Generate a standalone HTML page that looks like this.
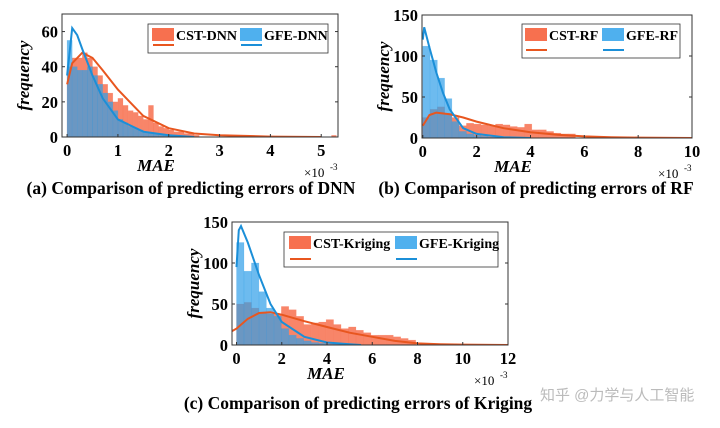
<!DOCTYPE html>
<html><head><meta charset="utf-8"><style>
body{margin:0;background:#fff;width:720px;height:423px;overflow:hidden;font-family:"Liberation Serif",serif}
svg text{font-family:"Liberation Serif",serif;font-weight:bold}
</style></head><body>
<svg id="s" width="720" height="423">
<text x="191" y="194" font-size="17.5" text-anchor="middle">(a) Comparison of predicting errors of DNN</text>
<text x="536" y="194" font-size="17.5" text-anchor="middle">(b) Comparison of predicting errors of RF</text>
<text x="358" y="409" font-size="17.5" text-anchor="middle">(c) Comparison of predicting errors of Kriging</text>
<text x="540" y="400" font-size="15" fill="#bbb" style="font-weight:normal;font-family:'Liberation Sans','Noto Sans CJK SC',sans-serif">知乎 @力学与人工智能</text>
</svg>
<script>
// Panel A (DNN)
const dnnBinW=0.1;
const dnnCst=[40,45,45,48,45,40,35,30,25,20,22,18,15,14,12,10,18,8,6,5,4,3,3,2,2,1];
const dnnGfe=[55,40,38,38,40,35,30,25,20,15,10,8,6,5,4,3,2,2,1,1,1,0];
const dnnOutlierX=5.2;
const dnnOutlierY=1;
const dnnCstCurveX=[0,0.1,0.3,0.5,0.7,1,1.5,2,2.5,3,4,5];
const dnnCstCurveY=[30,42,48,45,38,27,12,5,2,1,0.2,0];
const dnnGfeCurveX=[0,0.1,0.2,0.3,0.5,0.7,1,1.5,2,2.5];
const dnnGfeCurveY=[35,62,58,50,35,22,10,3,1,0];
const dnnXTicks=[0,1,2,3,4,5];
const dnnYTicks=[0,20,40,60];
// Panel B (RF)
const rfBinW=0.27;
const rfCst=[25,35,38,30,25,15,18,17,16,15,17,16,14,13,17,10,10,8,6,5,5];
const rfGfe=[112,95,73,48,20,8,5,3,2,1,1,1,1,1,0];
const rfCstCurveX=[0,0.25,0.5,1,1.5,2,3,4,5,6,7,8,10];
const rfCstCurveY=[15,28,31,29,25,20,12,7,4,2,1,0.5,0];
const rfGfeCurveX=[0,0.05,0.25,0.5,0.75,1,1.5,2,3,4];
const rfGfeCurveY=[120,135,110,80,55,35,12,5,1,0];
const rfXTicks=[0,2,4,6,8,10];
const rfYTicks=[0,50,100,150];
// Panel C (Kriging)
const krBinW=0.33;
const krCst=[50,52,45,40,38,38,47,43,35,25,27,28,31,25,20,22,18,15,12,12,12,10,8,6];
const krGfe=[125,90,100,65,45,35,20,12,8,5,3,2,1,1,1,0];
const krCstCurveX=[-0.2,0,0.5,1,1.5,2,3,4,5,6,7,8,9,10,12];
const krCstCurveY=[17,20,32,39,40,37,29,22,15,10,5,2,1,0.5,0];
const krGfeCurveX=[0,0.1,0.2,0.5,1,1.5,2,3,4,5,5.5];
const krGfeCurveY=[95,140,145,125,85,50,28,10,3,1,0];
const krXTicks=[0,2,4,6,8,10,12];
const krYTicks=[0,50,100,150];

const NS="http://www.w3.org/2000/svg";
const svg=document.getElementById('s');
function mk(t,a,p){const e=document.createElementNS(NS,t);for(const k in a)e.setAttribute(k,a[k]);(p||svg).appendChild(e);return e;}
function panel(id,box,xd,yd,binW,cst,gfe,cX,cY,gX,gY,xt,yt,leg,names,extra){
  const g=mk('g',{});
  
  
  const sx=v=>box.x0+(v-xd[0])/(xd[1]-xd[0])*(box.x1-box.x0);
  const sy=v=>box.y1-(v-yd[0])/(yd[1]-yd[0])*(box.y1-box.y0);
  const clip=mk('clipPath',{id:'c'+id},g);
  mk('rect',{x:box.x0,y:box.y0,width:box.x1-box.x0,height:box.y1-box.y0},clip);
  const pl=mk('g',{'clip-path':'url(#c'+id+')'},g);
  cst.forEach((v,i)=>{const r=mk('rect',{x:sx(i*binW),y:sy(v),width:sx(binW)-sx(0),height:sy(0)-sy(v),fill:'#f7704f','fill-opacity':0.85,stroke:'#f7704f','stroke-opacity':0.3,'stroke-width':0.5},pl);
    });
  if(extra){const r=mk('rect',{x:sx(extra[0]),y:sy(extra[1]),width:sx(binW)-sx(0),height:sy(0)-sy(extra[1]),fill:'#f7704f','fill-opacity':0.85},pl);
    }
  gfe.forEach((v,i)=>{const r=mk('rect',{x:sx(i*binW),y:sy(v),width:sx(binW)-sx(0),height:sy(0)-sy(v),fill:'#2f9ee8','fill-opacity':0.7,stroke:'#2f9ee8','stroke-opacity':0.3,'stroke-width':0.5},pl);
    });
  const path=(X,Y)=>X.map((x,i)=>(i?'L':'M')+sx(x).toFixed(1)+','+sy(Y[i]).toFixed(1)).join('');
  const l1=mk('path',{d:path(cX,cY),fill:'none',stroke:'#e8561f','stroke-width':2},pl);
  
  const l2=mk('path',{d:path(gX,gY),fill:'none',stroke:'#1b8fd8','stroke-width':2},pl);
  
  mk('rect',{x:box.x0,y:box.y0,width:box.x1-box.x0,height:box.y1-box.y0,fill:'none',stroke:'#333','stroke-width':1},g);
  xt.forEach(t=>{mk('line',{x1:sx(t),x2:sx(t),y1:box.y1,y2:box.y1-3,stroke:'#333'},g);
    const tx=mk('text',{x:sx(t),y:box.y1+19,'font-size':16.5,'text-anchor':'middle'},g);tx.textContent=t;
    });
  yt.forEach(t=>{mk('line',{x1:box.x0,x2:box.x0+3,y1:sy(t),y2:sy(t),stroke:'#333'},g);
    mk('line',{x1:box.x1,x2:box.x1-3,y1:sy(t),y2:sy(t),stroke:'#333'},g);
    const tx=mk('text',{x:box.x0-4,y:sy(t)+6,'font-size':16.5,'text-anchor':'end'},g);tx.textContent=t;
    });
  const xl=mk('text',{x:(box.x0+box.x1)/2-44,y:box.y1+34,'font-size':17,'font-style':'italic','text-anchor':'middle'},g);xl.textContent='MAE';
  
  const ex=mk('text',{x:box.x1-34,y:box.y1+40,'font-size':13,style:'font-weight:normal'},g);ex.textContent='×10';
  const ee=mk('text',{x:box.x1-8,y:box.y1+33,'font-size':9,style:'font-weight:normal'},g);ee.textContent='-3';
  
  const cy=(box.y0+box.y1)/2;
  const yl=mk('text',{x:box.x0-33,y:cy,'font-size':17,'font-style':'italic','text-anchor':'middle',transform:'rotate(-90 '+(box.x0-33)+' '+cy+')'},g);yl.textContent='frequency';
  
  const lg=mk('g',{},g);
  mk('rect',{x:leg.x0,y:leg.y0,width:leg.x1-leg.x0,height:leg.y1-leg.y0,fill:'#fff',stroke:'#333','stroke-width':0.8},lg);
  [[leg.a,'#f7704f','#e8561f',names[0]],[leg.b,'#4fb0ee','#1b8fd8',names[1]]].forEach(([x,f,c,n])=>{
    mk('rect',{x:x,y:leg.y0+4,width:22,height:13,fill:f},lg);
    const t=mk('text',{x:x+24,y:leg.y0+16,'font-size':14},lg);t.textContent=n;
    
    mk('line',{x1:x+1,x2:x+22,y1:leg.y1-8,y2:leg.y1-8,stroke:c,'stroke-width':2},lg);
  });
}
panel('a',{x0:62,x1:338,y0:14,y1:137},[-0.1,5.33],[0,70],dnnBinW,dnnCst,dnnGfe,dnnCstCurveX,dnnCstCurveY,dnnGfeCurveX,dnnGfeCurveY,dnnXTicks,dnnYTicks,{x0:148,x1:328,y0:24,y1:53,a:152,b:240},['CST-DNN','GFE-DNN'],[dnnOutlierX,dnnOutlierY]);
panel('b',{x0:422,x1:692,y0:15,y1:138},[-0.03,10],[0,150],rfBinW,rfCst,rfGfe,rfCstCurveX,rfCstCurveY,rfGfeCurveX,rfGfeCurveY,rfXTicks,rfYTicks,{x0:522,x1:680,y0:24,y1:58,a:525,b:602},['CST-RF','GFE-RF']);
panel('c',{x0:232,x1:508,y0:222,y1:345},[-0.2,12],[0,150],krBinW,krCst,krGfe,krCstCurveX,krCstCurveY,krGfeCurveX,krGfeCurveY,krXTicks,krYTicks,{x0:284,x1:498,y0:232,y1:267,a:289,b:395},['CST-Kriging','GFE-Kriging']);
</script>
</body></html>
